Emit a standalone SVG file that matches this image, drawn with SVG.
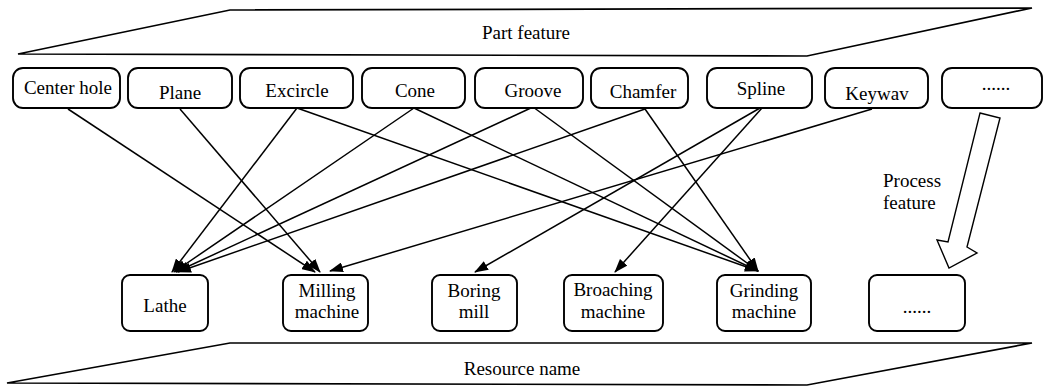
<svg xmlns="http://www.w3.org/2000/svg" width="1045" height="386" viewBox="0 0 1045 386">
<style>
text{font-family:"Liberation Serif","Times New Roman",serif;font-size:19px;fill:#000;text-anchor:middle}
.box{fill:#fff;stroke:#000;stroke-width:1.9}
.plane{fill:none;stroke:#000;stroke-width:1.7}
.edge{stroke:#000;stroke-width:1.5;fill:none;marker-end:url(#ah)}
</style>
<defs>
<marker id="ah" viewBox="0 0 14 10" refX="13" refY="5" markerWidth="14" markerHeight="10" markerUnits="userSpaceOnUse" orient="auto">
<path d="M0,0 L14,5 L0,10 Z" fill="#000"/>
</marker>
</defs>
<rect width="1045" height="386" fill="#fff"/>
<g id="part-feature">
<polygon class="plane" points="18,54 230,10 1032,8 807,56"/>
<text x="526" y="39">Part feature</text>
</g>
<g id="resource-name">
<polygon class="plane" points="7,383 230,343 1032,343 807,385"/>
<text x="522" y="375">Resource name</text>
</g>
<g id="connectors">
<line class="edge" x1="68" y1="109" x2="315" y2="272"/>
<line class="edge" x1="180" y1="109" x2="320" y2="272"/>
<line class="edge" x1="297" y1="108" x2="172" y2="272"/>
<line class="edge" x1="297" y1="108" x2="758" y2="271"/>
<line class="edge" x1="414" y1="108" x2="174" y2="272"/>
<line class="edge" x1="414" y1="108" x2="758" y2="271"/>
<line class="edge" x1="533" y1="107" x2="176" y2="272"/>
<line class="edge" x1="533" y1="107" x2="758" y2="271"/>
<line class="edge" x1="645" y1="109" x2="178" y2="272"/>
<line class="edge" x1="645" y1="109" x2="758" y2="271"/>
<line class="edge" x1="760" y1="108" x2="475" y2="272"/>
<line class="edge" x1="762" y1="108" x2="615" y2="272"/>
<line class="edge" x1="872" y1="109" x2="330" y2="271"/>
</g>
<g id="process-feature">
<polygon points="980,113 1000,118 967,247 977,253 949,268 937,240 948,242" fill="#fff" stroke="#000" stroke-width="1.4"/>
<text x="883" y="187" style="text-anchor:start">Process</text>
<text x="883" y="209" style="text-anchor:start">feature</text>
</g>
<g id="center-hole"><rect class="box" x="13" y="68" width="107" height="40" rx="10"/><text x="68" y="94">Center hole</text></g>
<g id="plane"><rect class="box" x="128" y="68" width="104" height="40" rx="10"/><text x="180" y="99">Plane</text></g>
<g id="excircle"><rect class="box" x="240" y="68" width="113" height="40" rx="10"/><text x="297" y="97">Excircle</text></g>
<g id="cone"><rect class="box" x="362" y="68" width="103" height="40" rx="10"/><text x="415" y="97">Cone</text></g>
<g id="groove"><rect class="box" x="475" y="68" width="108" height="40" rx="10"/><text x="533" y="97">Groove</text></g>
<g id="chamfer"><rect class="box" x="591" y="68" width="97" height="40" rx="10"/><text x="643" y="98">Chamfer</text></g>
<g id="spline"><rect class="box" x="707" y="68" width="105" height="40" rx="10"/><text x="761" y="95">Spline</text></g>
<g id="keywav"><rect class="box" x="825" y="68" width="103" height="40" rx="10"/><text x="877" y="100">Keywav</text></g>
<g id="more-features"><rect class="box" x="942" y="68" width="100" height="40" rx="10"/><text x="996" y="90">......</text></g>
<g id="lathe"><rect class="box" x="122" y="275" width="86" height="56" rx="8"/><text x="165" y="312">Lathe</text></g>
<g id="milling-machine"><rect class="box" x="283" y="275" width="85" height="56" rx="8"/><text x="327" y="297">Milling</text><text x="327" y="318">machine</text></g>
<g id="boring-mill"><rect class="box" x="432" y="275" width="85" height="56" rx="8"/><text x="474" y="297">Boring</text><text x="474" y="318">mill</text></g>
<g id="broaching-machine"><rect class="box" x="564" y="275" width="99" height="56" rx="8"/><text x="613" y="296">Broaching</text><text x="613" y="318">machine</text></g>
<g id="grinding-machine"><rect class="box" x="717" y="275" width="94" height="56" rx="8"/><text x="764" y="297">Grinding</text><text x="764" y="318">machine</text></g>
<g id="more-resources"><rect class="box" x="869" y="275" width="96" height="56" rx="8"/><text x="917" y="313">......</text></g>
</svg>
